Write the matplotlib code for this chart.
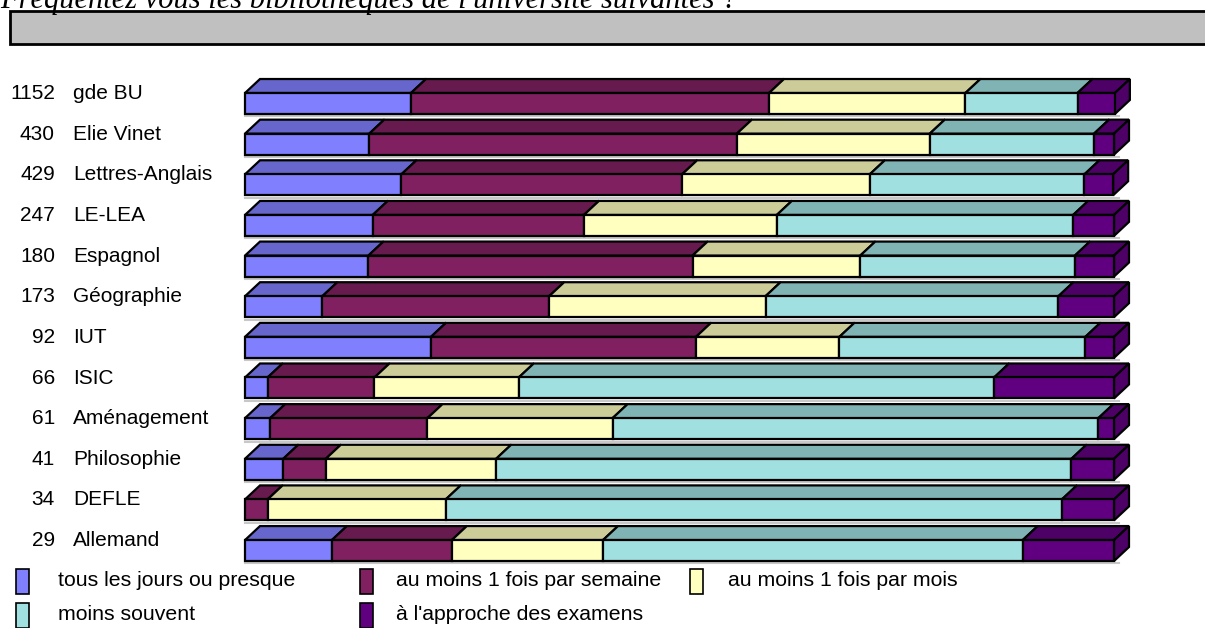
import matplotlib.pyplot as plt
from matplotlib.patches import Polygon, Rectangle
import matplotlib.transforms as mtransforms

# data: share of answers (%) per library, front-face reading of the picture
libraries = ["gde BU", "Elie Vinet", "Lettres-Anglais", "LE-LEA", "Espagnol",
             "Géographie", "IUT", "ISIC", "Aménagement", "Philosophie",
             "DEFLE", "Allemand"]
counts = [1152, 430, 429, 247, 180, 173, 92, 66, 61, 41, 34, 29]

categories = ["tous les jours ou presque", "au moins 1 fois par semaine",
              "au moins 1 fois par mois", "moins souvent",
              "à l'approche des examens"]

daily = [19.1, 14.3, 18.0, 14.7, 14.2, 8.9, 21.4, 2.6, 2.9, 4.4, 0.0, 10.0]
weekly = [41.2, 42.3, 32.3, 24.3, 37.3, 26.1, 30.5, 12.3, 18.1, 4.9, 2.6, 13.8]
monthly = [22.6, 22.2, 21.6, 22.2, 19.3, 24.9, 16.5, 16.6, 21.3, 19.6, 20.5, 17.4]
less = [12.9, 18.9, 24.7, 34.1, 24.7, 33.7, 28.3, 54.7, 55.9, 66.2, 70.9, 48.3]
exams = [4.3, 2.3, 3.3, 4.7, 4.5, 6.4, 3.3, 13.8, 1.8, 4.9, 6.0, 10.5]

series = [daily, weekly, monthly, less, exams]
front_colors = ["#8080FF", "#802060", "#FFFFC0", "#A0E0E0", "#600080"]
top_colors = ["#6666CC", "#661A4D", "#CCCC99", "#80B3B3", "#4D0066"]

title = "Fréquentez vous les bibliothèques de l'université suivantes ?"

W, H = 1205, 628
fig = plt.figure(figsize=(W / 100, H / 100), dpi=100)

# title, top half cut off by the figure edge
fig.text(0 / W, 1 - 8 / H, title, fontsize=22, fontstyle="italic",
         family="Liberation Serif", va="baseline", ha="left")
fig.add_artist(Rectangle((10 / W, 1 - 44 / H), 1.0, 33 / H,
                         transform=fig.transFigure, fc="#C0C0C0",
                         ec="black", lw=2))

# axes: x in percent, y in rows
row_px = 40.64
top_px = 103.5 - 0.5 * row_px
bot_px = 103.5 + 11.5 * row_px
ax = fig.add_axes([245 / W, 1 - bot_px / H, 869 / W, (bot_px - top_px) / H])
ax.set_xlim(0, 100)
ax.set_ylim(11.5, -0.5)
ax.axis("off")

h = 0.258
dx = 15 / 869 * 100
dy = 14 / row_px

for i in range(len(libraries)):
    # light grey shadow line under the bar
    ax.plot([0, 100 + dx * 0.3], [i + h + 0.06, i + h + 0.06], color="#C8C8C8",
            lw=1.5, clip_on=False, zorder=1)
    left = 0.0
    for j, s in enumerate(series):
        w = s[i]
        if w <= 0:
            continue
        r = left + w
        front = Polygon([(left, i - h), (r, i - h), (r, i + h), (left, i + h)],
                        closed=True, fc=front_colors[j], ec="black", lw=1.6,
                        clip_on=False, zorder=3)
        top = Polygon([(left, i - h), (r, i - h), (r + dx, i - h - dy),
                       (left + dx, i - h - dy)], closed=True, fc=top_colors[j],
                      ec="black", lw=1.6, clip_on=False, zorder=2)
        ax.add_patch(top)
        ax.add_patch(front)
        left = r
    last = [j for j, s in enumerate(series) if s[i] > 0][-1]
    side = Polygon([(left, i - h), (left + dx, i - h - dy),
                    (left + dx, i + h - dy), (left, i + h)], closed=True,
                   fc=top_colors[last], ec="black", lw=1.6, clip_on=False,
                   zorder=2)
    ax.add_patch(side)

# row labels
trans = mtransforms.blended_transform_factory(fig.transFigure, ax.transData)
for i, (n, name) in enumerate(zip(counts, libraries)):
    ax.text(55 / W, i - 0.11, str(n), transform=trans, ha="right",
            va="baseline", fontsize=15, family="Liberation Sans")
    ax.text(73 / W, i - 0.11, name, transform=trans, ha="left",
            va="baseline", fontsize=15, family="Liberation Sans")

# legend
leg_pos = [(16, 569, 58), (360, 569, 396), (690, 569, 728),
           (16, 603, 58), (360, 603, 396)]
for j, (sx, sy, tx) in enumerate(leg_pos):
    fig.add_artist(Rectangle((sx / W, 1 - (sy + 25) / H), 13 / W, 25 / H,
                             transform=fig.transFigure, fc=front_colors[j],
                             ec="black", lw=1.2))
    fig.text(tx / W, 1 - (sy + 17) / H, categories[j], fontsize=15.3,
             family="Liberation Sans", va="baseline", ha="left")

fig.savefig("out.png", dpi=100)
